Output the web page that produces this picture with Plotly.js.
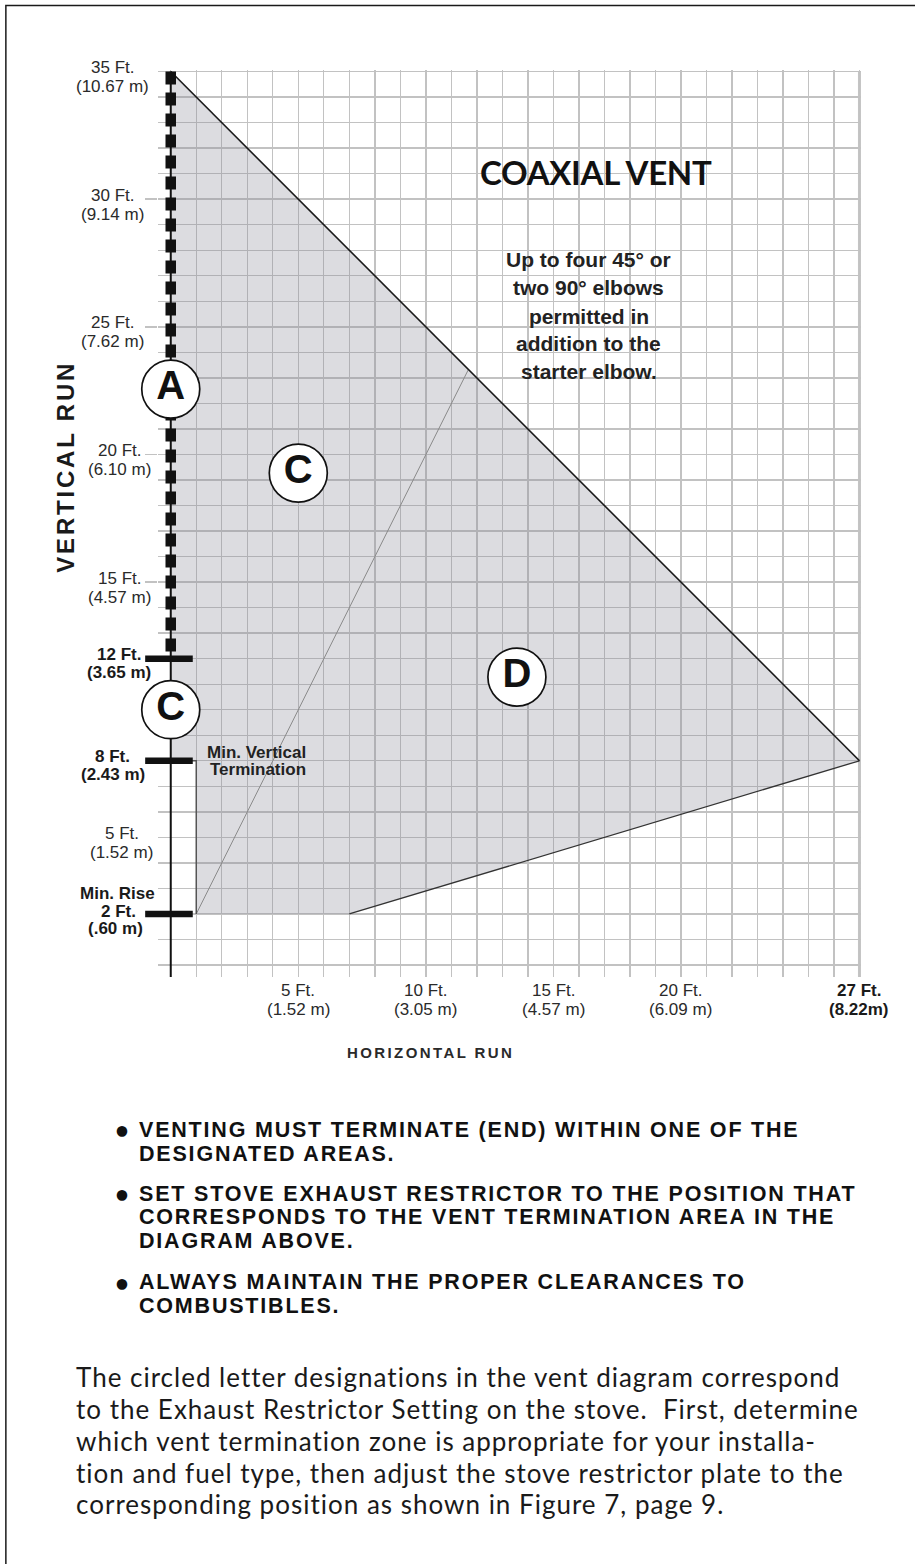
<!DOCTYPE html>
<html><head><meta charset="utf-8">
<script src="https://cdn.plot.ly/plotly-3.0.1.min.js"></script>
<style>html,body{margin:0;padding:0;background:#fff}#chart{width:915px;height:1564px}</style>
</head><body><div id="chart"></div>
<script>
// ---------------- data ----------------
const ventZoneX = [0, 27, 7, 1, 1, 0, 0];
const ventZoneY = [35, 8, 2, 2, 8, 8, 35];
const maxRunX = [0, 27];
const maxRunY = [35, 8];
const lowerEdgeX = [27, 7];
const lowerEdgeY = [8, 2];
const zoneDividerX = [1, 11.67];
const zoneDividerY = [2, 23.33];
const minTermX = [1, 1, 0];
const minTermY = [2, 8, 8];
const zoneAX = [0, 0];
const zoneAY = [35, 12];
const markFt = [12, 8, 2];
const longTickFt = [15, 20, 25, 30];
const zoneLetters = ['A', 'C', 'C', 'D'];
const zoneLetterX = [0, 0, 5, 13.57];
const zoneLetterY = [22.56, 10, 19.27, 11.28];
const yTickFt = [35, 30, 25, 20, 15, 5];
const yTickFtText = ['35 Ft.', '30 Ft.', '25 Ft.', '20 Ft.', '15 Ft.', '5 Ft.'];
const yTickMText = ['(10.67 m)', '(9.14 m)', '(7.62 m)', '(6.10 m)', '(4.57 m)', '(1.52 m)'];
const yBoldFt = [12, 8];
const yBoldFtText = ['12 Ft.', '8 Ft.'];
const yBoldMText = ['(3.65 m)', '(2.43 m)'];
const minRiseFt = 2;
const minRiseText = ['Min. Rise', '2 Ft.', '(.60 m)'];
const xTickFt = [5, 10, 15, 20];
const xTickFtText = ['5 Ft.', '10 Ft.', '15 Ft.', '20 Ft.'];
const xTickMText = ['(1.52 m)', '(3.05 m)', '(4.57 m)', '(6.09 m)'];
const xMaxFt = 27;
const xMaxText = ['27 Ft.', '(8.22m)'];
const chartTitle = 'COAXIAL VENT';
const elbowNote = ['Up to four 45\u00b0 or', 'two 90\u00b0 elbows', 'permitted in', 'addition to the', 'starter elbow.'];
const minTermNote = ['Min. Vertical', 'Termination'];
const bullets = [
  ['VENTING MUST TERMINATE (END) WITHIN ONE OF THE', 'DESIGNATED AREAS.'],
  ['SET STOVE EXHAUST RESTRICTOR TO THE POSITION THAT', 'CORRESPONDS TO THE VENT TERMINATION AREA IN THE', 'DIAGRAM ABOVE.'],
  ['ALWAYS MAINTAIN THE PROPER CLEARANCES TO', 'COMBUSTIBLES.']
];
const paragraph = [
  'The circled letter designations in the vent diagram correspond',
  'to the Exhaust Restrictor Setting on the stove.\u00a0 First, determine',
  'which vent termination zone is appropriate for your installa-',
  'tion and fuel type, then adjust the stove restrictor plate to the',
  'corresponding position as shown in Figure 7, page 9.'
];

// ---------------- geometry / style ----------------
const FW = 915, FH = 1564;
const ML = 158.2, MR = 53.5, MT = 69.5, MB = 586.7;
const PW = FW - ML - MR, PH = FH - MT - MB;
const X_RANGE = [-0.5, 27.06];
const Y_RANGE = [-0.47, 35.06];
const px = x => (x - ML) / PW;
const py = y => 1 - (y - MT) / PH;
const GRID = '#c2c2c2';
const SANS = 'Liberation Sans, Arial, sans-serif';
const HUM = 'Lato, Open Sans, sans-serif';
const FILL = 'rgba(138,140,152,0.30)';
const ls = (t, s) => '<span style="letter-spacing:' + s + 'px">' + t + '</span>';

const traces = [
  {x: ventZoneX, y: ventZoneY, mode: 'lines', fill: 'toself', fillcolor: FILL, line: {width: 0}, hoverinfo: 'skip'},
  {x: zoneDividerX, y: zoneDividerY, mode: 'lines', line: {color: '#8a8a8a', width: 1}, hoverinfo: 'skip'},
  {x: lowerEdgeX, y: lowerEdgeY, mode: 'lines', line: {color: '#333', width: 1.3}, hoverinfo: 'skip'},
  {x: maxRunX, y: maxRunY, mode: 'lines', line: {color: '#1a1a1a', width: 1.6}, hoverinfo: 'skip'},
  {x: minTermX, y: minTermY, mode: 'lines', line: {color: '#555', width: 1.5}, hoverinfo: 'skip'},
  {x: [0, 0], y: [35, Y_RANGE[0]], mode: 'lines', line: {color: '#111', width: 2}, hoverinfo: 'skip'},
  {x: zoneAX, y: zoneAY, mode: 'lines', line: {color: '#111', width: 10.5, dash: '13px,8px'}, hoverinfo: 'skip'},
  {x: markFt.map(() => -0.07), y: markFt, mode: 'markers', cliponaxis: false,
   marker: {symbol: 'line-ew', size: 34, line: {width: 6.5, color: '#111'}}, hoverinfo: 'skip'},
  {x: zoneLetterX, y: zoneLetterY, mode: 'markers+text', text: zoneLetters, textposition: 'middle center',
   cliponaxis: false,
   textfont: {family: SANS, size: 40, color: '#111', weight: 'bold'},
   marker: {size: 58, color: '#fff', line: {color: '#111', width: 1.7}}, hoverinfo: 'skip'}
];

const ann = [];
function addText(text, x, y, opts) {
  ann.push(Object.assign({text: text, x: x, y: y, xref: 'paper', yref: 'paper', showarrow: false,
    xanchor: 'center', yanchor: 'middle', font: {family: SANS, size: 17, color: '#2a2a2a'}}, opts || {}));
}
// title & notes
addText(ls(chartTitle, -0.3), px(596), py(172), {font: {family: HUM, size: 33, color: '#111', weight: 'bold'}});
const elbowY = [259.3, 286.7, 316, 343.3, 371.7];
elbowNote.forEach((t, i) => addText(t, px(589), py(elbowY[i]), {font: {family: SANS, size: 21, color: '#222', weight: 'bold'}}));
const minTermPos = [[205, 752.8], [208, 769.5]];
minTermNote.forEach((t, i) => addText(t, px(minTermPos[i][0]), py(minTermPos[i][1]), {xanchor: 'left', font: {family: SANS, size: 17, color: '#222', weight: 'bold'}}));

// y tick labels (two lines each)
const yLabelCx = [113, 113, 113, 119.5, 119.5, 122];
yTickFt.forEach((v, i) => {
  addText(yTickFtText[i], px(yLabelCx[i]), v, {yref: 'y', yshift: 4});
  addText(yTickMText[i], px(yLabelCx[i]), v, {yref: 'y', yshift: -15});
});
const yBoldCx = [119, 113];
yBoldFt.forEach((v, i) => {
  const f = {family: SANS, size: 17, color: '#1a1a1a', weight: 'bold'};
  addText(yBoldFtText[i], px(yBoldCx[i]), v, {yref: 'y', yshift: 4, font: f});
  addText(yBoldMText[i], px(yBoldCx[i]), v, {yref: 'y', yshift: -14, font: f});
});
const minRiseCx = [118, 119, 115.5], minRiseShift = [20, 2, -15];
minRiseText.forEach((t, i) => addText(t, px(minRiseCx[i]), minRiseFt, {yref: 'y', yshift: minRiseShift[i],
  font: {family: SANS, size: 17, color: '#1a1a1a', weight: 'bold'}}));

// x tick labels
xTickFt.forEach((v, i) => {
  addText(xTickFtText[i], v, py(991), {xref: 'x'});
  addText(xTickMText[i], v, py(1009.5), {xref: 'x'});
});
addText(xMaxText[0], xMaxFt, py(991), {xref: 'x', font: {family: SANS, size: 17, color: '#1a1a1a', weight: 'bold'}});
addText(xMaxText[1], xMaxFt, py(1009.5), {xref: 'x', font: {family: SANS, size: 17, color: '#1a1a1a', weight: 'bold'}});

// axis titles
addText(ls('VERTICAL RUN', 2.8), px(66), py(466.7), {textangle: -90,
  font: {family: SANS, size: 24, color: '#1a1a1a', weight: 'bold'}});
addText(ls('HORIZONTAL RUN', 2.4), px(431), py(1053),
  {font: {family: SANS, size: 15, color: '#2a2a2a', weight: 'bold'}});

// bullets
const bulletLineY = [[1130, 1154], [1194, 1218, 1242], [1283, 1307]];
bullets.forEach((lines, b) => {
  addText('\u2022', px(122), py(bulletLineY[b][0]), {font: {family: HUM, size: 24, color: '#111', weight: 'bold'}});
  lines.forEach((t, i) => addText(ls(t, 1.8), px(137), py(bulletLineY[b][i]), {xanchor: 'left',
    font: {family: SANS, size: 21.5, color: '#111', weight: 'bold'}}));
});
// paragraph
const paraY = [1378, 1410, 1442, 1474, 1505];
paragraph.forEach((t, i) => addText(ls(t, 1), px(74), py(paraY[i]), {xanchor: 'left',
  font: {family: HUM, size: 26, color: '#1a1a1a'}}));

const layout = {
  width: FW, height: FH,
  margin: {l: ML, r: MR, t: MT, b: MB, pad: 0},
  paper_bgcolor: '#fff', plot_bgcolor: '#fff',
  showlegend: false,
  xaxis: {range: X_RANGE, tickmode: 'linear', tick0: 0, dtick: 1, showgrid: true, gridcolor: GRID, gridwidth: 1.4,
    zeroline: false, showline: false, ticks: '', showticklabels: false, fixedrange: true},
  yaxis: {range: Y_RANGE, tickmode: 'array', tickvals: longTickFt, ticks: 'outside', ticklen: 12.5, tickwidth: 1.4,
    tickcolor: GRID, showgrid: true, gridcolor: GRID, gridwidth: 1.4,
    minor: {tickmode: 'linear', tick0: 0, dtick: 1, showgrid: true, gridcolor: GRID, gridwidth: 1.4, ticks: ''},
    zeroline: false, showline: false, showticklabels: false, fixedrange: true},
  shapes: [
    {type: 'line', xref: 'x', yref: 'paper', x0: 27, x1: 27, y0: 0, y1: 1 - 0.06 / 35.53, line: {color: '#c4c4c4', width: 3}, layer: 'below'},
    {type: 'rect', xref: 'paper', yref: 'paper', x0: px(6), x1: px(935), y0: py(1585), y1: py(5), line: {color: '#1a1a1a', width: 1.5}}
  ],
  annotations: ann
};
Plotly.newPlot('chart', traces, layout, {staticPlot: true, displayModeBar: false});
</script>
</body></html>
